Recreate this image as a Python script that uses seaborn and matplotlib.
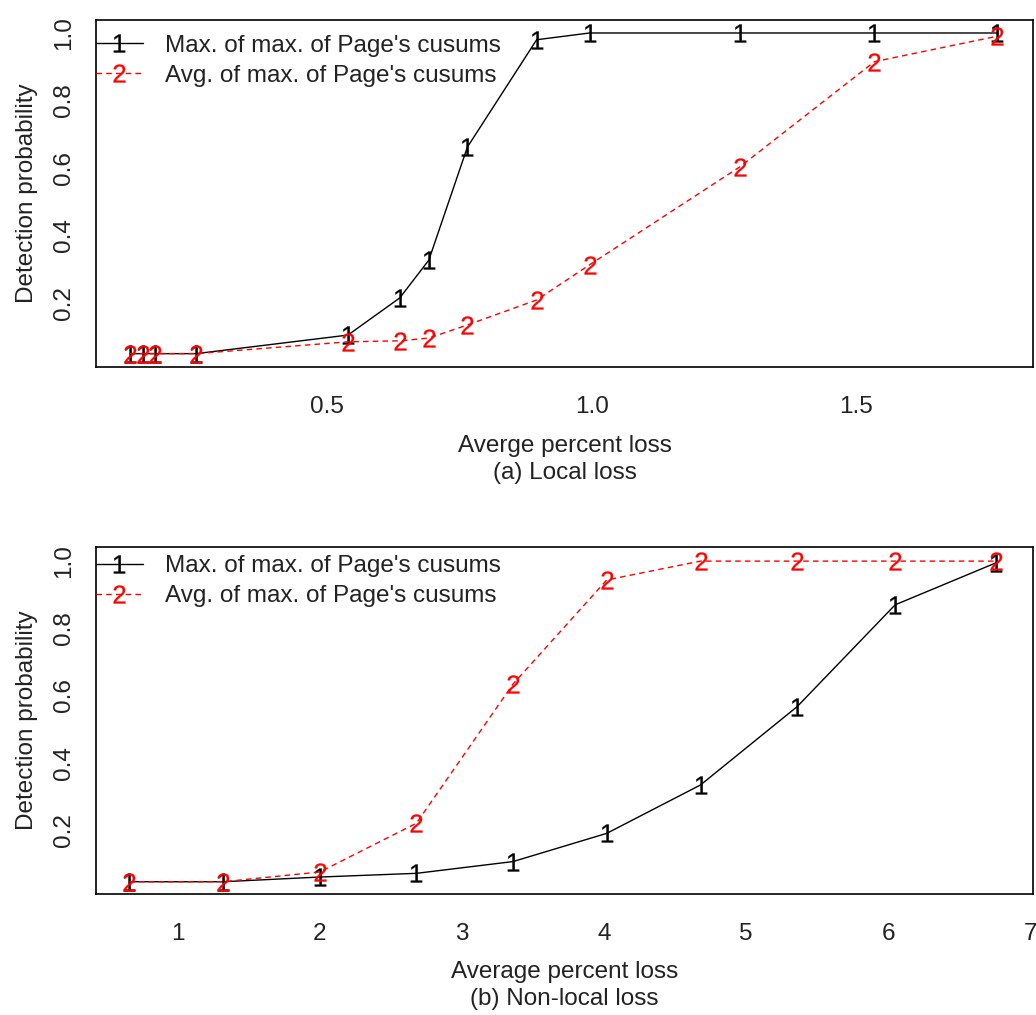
import matplotlib
matplotlib.use('Agg')
import matplotlib.pyplot as plt
import seaborn as sns
import pandas as pd

# ---- Data: panel (a) local loss ----
local_loss = [0.127, 0.151, 0.174, 0.252, 0.539, 0.637, 0.692, 0.765, 0.896, 0.996, 1.281, 1.535, 1.766]
local_max = [0.05, 0.05, 0.05, 0.05, 0.105, 0.215, 0.327, 0.662, 0.98, 1.0, 1.0, 1.0, 1.0]
local_avg = [0.05, 0.05, 0.05, 0.05, 0.085, 0.088, 0.096, 0.135, 0.209, 0.313, 0.604, 0.915, 0.99]

# ---- Data: panel (b) non-local loss ----
nonlocal_loss = [0.66, 1.32, 2.0, 2.68, 3.36, 4.02, 4.68, 5.36, 6.05, 6.76]
nonlocal_max = [0.046, 0.046, 0.06, 0.071, 0.106, 0.19, 0.334, 0.567, 0.87, 0.995]
nonlocal_avg = [0.046, 0.046, 0.075, 0.22, 0.634, 0.944, 1.0, 1.0, 1.0, 1.0]

series_labels = ["Max. of max. of Page's cusums", "Avg. of max. of Page's cusums"]
y_ticks = [0.2, 0.4, 0.6, 0.8, 1.0]
y_ticklabels = ["0.2", "0.4", "0.6", "0.8", "1.0"]
a_ticks = [0.5, 1.0, 1.5]
a_ticklabels = ["0.5", "1.0", "1.5"]
b_ticks = [1, 2, 3, 4, 5, 6, 7]
b_ticklabels = ["1", "2", "3", "4", "5", "6", "7"]

sns.set_theme(style='white')
plt.rcParams['font.family'] = ['Liberation Sans', 'DejaVu Sans']
plt.rcParams['mathtext.fontset'] = 'custom'
plt.rcParams['mathtext.rm'] = 'Liberation Sans'
plt.rcParams['mathtext.it'] = 'Liberation Sans'

FS = 17.5

fig = plt.figure(figsize=(10.36, 10.15), dpi=100)
ax1 = fig.add_axes([96/1036, 1-367/1015, 937/1036, 347/1015])
ax2 = fig.add_axes([96/1036, 1-893.5/1015, 937/1036, 346.5/1015])


def panel(ax, x, ymax, yavg, xlim, ylim, xticks, xticklabels, xlabel, leg_y):
    df = pd.DataFrame({'x': x, 'max': ymax, 'avg': yavg})
    sns.lineplot(data=df, x='x', y='max', ax=ax, color='black', linewidth=1.0,
                 marker=r'$\mathrm{1}$', markersize=13, markeredgewidth=0.2,
                 markeredgecolor='black', label=series_labels[0],
                 estimator=None, sort=False, errorbar=None)
    sns.lineplot(data=df, x='x', y='avg', ax=ax, color='red', linewidth=1.0,
                 linestyle=(0, (4, 3)),
                 marker=r'$\mathrm{2}$', markersize=13, markeredgewidth=0.2,
                 markeredgecolor='red', label=series_labels[1],
                 estimator=None, sort=False, errorbar=None)
    ax.set_xlim(*xlim)
    ax.set_ylim(*ylim)
    ax.set_xticks(xticks)
    ax.set_xticklabels(xticklabels)
    ax.set_yticks(y_ticks)
    ax.set_yticklabels(y_ticklabels, rotation=90, va='center')
    ax.tick_params(direction='in', length=4, width=1, colors='black',
                   labelsize=FS, labelcolor='#222222')
    ax.tick_params(axis='x', pad=21)
    ax.tick_params(axis='y', pad=15)
    for s in ax.spines.values():
        s.set_visible(True)
        s.set_color('black')
        s.set_linewidth(1.2)
    ax.set_ylabel('Detection probability', fontsize=FS, color='#222222')
    ax.yaxis.set_label_coords(-0.062, 0.5)
    ax.set_xlabel(xlabel, fontsize=FS, color='#222222', linespacing=1.3)
    ax.xaxis.set_label_coords(0.5, -0.195)
    leg = ax.legend(loc='upper left', bbox_to_anchor=(0, leg_y), frameon=False,
                    borderaxespad=0, borderpad=0, handlelength=1.93,
                    handletextpad=0.9, labelspacing=0.33, fontsize=FS, numpoints=1)
    for t in leg.get_texts():
        t.set_color('#222222')
    ax.set_facecolor('white')


panel(ax1, local_loss, local_max, local_avg, (0.0624, 1.835), (0.0104, 1.0385),
      a_ticks, a_ticklabels, 'Averge percent loss\n(a) Local loss', 0.958)
panel(ax2, nonlocal_loss, nonlocal_max, nonlocal_avg, (0.425, 7.02), (0.011, 1.042),
      b_ticks, b_ticklabels, 'Average percent loss\n(b) Non-local loss', 0.976)

fig.savefig('out.png', dpi=100, facecolor='white')
